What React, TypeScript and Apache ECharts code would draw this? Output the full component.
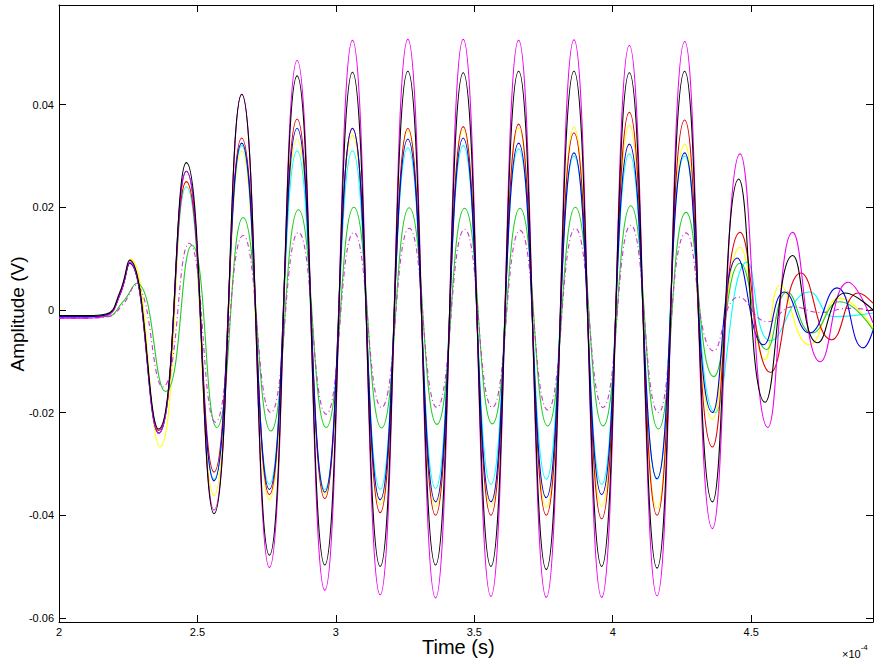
import React, { useEffect, useRef } from "react";
import * as echarts from "echarts";

// Time values are in units of 1e-4 s (axis shows ×10^-4); amplitudes in V.
const xTicks = [2, 2.5, 3, 3.5, 4, 4.5];
const yTicks = [-0.06, -0.04, -0.02, 0, 0.02, 0.04];

const blackT = [2.0, 2.1, 2.17, 2.22, 2.255, 2.36, 2.46, 2.56, 2.66, 2.76, 2.86, 2.96, 3.06, 3.16, 3.26, 3.36, 3.46, 3.56, 3.66, 3.76, 3.86, 3.96, 4.06, 4.16, 4.26, 4.36, 4.455, 4.55, 4.65, 4.74, 4.84, 4.94];
const blackV = [-0.0011, -0.0011, -0.0008, 0.0035, 0.0097, -0.0232, 0.0287, -0.0397, 0.042, -0.0478, 0.0456, -0.0497, 0.0463, -0.05, 0.0465, -0.0497, 0.0462, -0.05, 0.0465, -0.0506, 0.0465, -0.05, 0.0462, -0.0503, 0.0465, -0.0374, 0.0255, -0.018, 0.0106, -0.0064, 0.0033, 0.0];

const magentaT = [2.0, 2.1, 2.17, 2.22, 2.255, 2.36, 2.46, 2.56, 2.66, 2.76, 2.86, 2.96, 3.06, 3.16, 3.26, 3.36, 3.46, 3.56, 3.66, 3.76, 3.86, 3.96, 4.06, 4.16, 4.26, 4.36, 4.46, 4.56, 4.65, 4.75, 4.85, 4.94];
const magentaV = [-0.0016, -0.0016, -0.0012, 0.003, 0.0093, -0.024, 0.027, -0.039, 0.042, -0.0502, 0.0486, -0.0546, 0.0525, -0.0555, 0.0527, -0.0561, 0.0527, -0.0558, 0.0525, -0.056, 0.0526, -0.056, 0.0515, -0.0557, 0.0523, -0.0426, 0.0304, -0.0229, 0.0151, -0.0101, 0.0054, -0.0025];

const redT = [2.0, 2.1, 2.17, 2.22, 2.255, 2.36, 2.46, 2.56, 2.66, 2.76, 2.86, 2.96, 3.06, 3.16, 3.26, 3.36, 3.46, 3.56, 3.66, 3.76, 3.86, 3.96, 4.06, 4.16, 4.26, 4.36, 4.46, 4.57, 4.68, 4.79, 4.887, 4.94];
const redV = [-0.0013, -0.0013, -0.001, 0.003, 0.0091, -0.0235, 0.025, -0.0316, 0.0335, -0.036, 0.0372, -0.0368, 0.0354, -0.0395, 0.0354, -0.04, 0.0357, -0.04, 0.0362, -0.04, 0.0345, -0.0407, 0.0385, -0.04, 0.037, -0.0267, 0.0151, -0.0122, 0.0072, -0.0058, 0.0033, 0.0013];

const blueT = [2.0, 2.1, 2.17, 2.22, 2.255, 2.36, 2.46, 2.56, 2.66, 2.76, 2.86, 2.96, 3.06, 3.16, 3.26, 3.36, 3.46, 3.56, 3.66, 3.76, 3.86, 3.96, 4.06, 4.16, 4.26, 4.36, 4.45, 4.545, 4.62, 4.71, 4.81, 4.905, 4.94];
const blueV = [-0.0013, -0.0013, -0.001, 0.003, 0.0091, -0.024, 0.027, -0.0333, 0.0325, -0.035, 0.0354, -0.0355, 0.0354, -0.037, 0.0333, -0.0374, 0.0335, -0.0374, 0.0325, -0.0366, 0.0306, -0.036, 0.0323, -0.0329, 0.0306, -0.02, 0.0101, -0.0068, 0.0035, -0.0045, 0.0043, -0.0074, -0.004];

const yellowT = [2.0, 2.1, 2.17, 2.22, 2.26, 2.365, 2.46, 2.56, 2.66, 2.76, 2.86, 2.96, 3.06, 3.16, 3.26, 3.36, 3.46, 3.56, 3.66, 3.76, 3.86, 3.96, 4.06, 4.16, 4.26, 4.36, 4.46, 4.55, 4.605, 4.71, 4.82, 4.94];
const yellowV = [-0.0014, -0.0014, -0.001, 0.0032, 0.0099, -0.0267, 0.025, -0.0362, 0.031, -0.037, 0.0333, -0.036, 0.034, -0.038, 0.035, -0.0383, 0.035, -0.0383, 0.0355, -0.0385, 0.0356, -0.0383, 0.036, -0.0387, 0.0323, -0.0213, 0.0122, -0.0097, 0.0048, -0.0068, 0.0023, -0.0035];

const cyanT = [2.0, 2.1, 2.17, 2.22, 2.255, 2.36, 2.46, 2.56, 2.66, 2.76, 2.86, 2.96, 3.06, 3.16, 3.26, 3.36, 3.46, 3.56, 3.66, 3.76, 3.86, 3.96, 4.06, 4.16, 4.26, 4.37, 4.485, 4.57, 4.71, 4.8, 4.94];
const cyanV = [-0.0013, -0.0013, -0.001, 0.003, 0.0091, -0.024, 0.024, -0.033, 0.032, -0.034, 0.031, -0.035, 0.031, -0.035, 0.0316, -0.0348, 0.032, -0.034, 0.0314, -0.033, 0.03, -0.034, 0.0304, -0.033, 0.03, -0.02, 0.0093, -0.006, 0.0035, -0.0013, -0.0006];

const greenT = [2.0, 2.1, 2.17, 2.23, 2.28, 2.385, 2.48, 2.57, 2.665, 2.765, 2.865, 2.965, 3.065, 3.165, 3.265, 3.365, 3.465, 3.565, 3.665, 3.765, 3.865, 3.965, 4.065, 4.165, 4.265, 4.365, 4.46, 4.555, 4.63, 4.72, 4.82, 4.94];
const greenV = [-0.0013, -0.0013, -0.0013, 0.0015, 0.0052, -0.0159, 0.0126, -0.0229, 0.018, -0.0236, 0.0195, -0.0229, 0.02, -0.023, 0.0199, -0.0223, 0.0198, -0.0222, 0.0198, -0.0226, 0.02, -0.0226, 0.0203, -0.0232, 0.019, -0.013, 0.0091, -0.0077, 0.0035, -0.0045, 0.0016, -0.0039];

const dashT = [2.0, 2.1, 2.17, 2.23, 2.275, 2.375, 2.47, 2.565, 2.665, 2.765, 2.865, 2.965, 3.065, 3.165, 3.265, 3.365, 3.465, 3.565, 3.665, 3.765, 3.865, 3.965, 4.065, 4.165, 4.265, 4.365, 4.455, 4.56, 4.65, 4.75, 4.85, 4.94];
const dashV = [-0.0016, -0.0016, -0.0014, 0.001, 0.0048, -0.015, 0.013, -0.0219, 0.0145, -0.02, 0.0151, -0.0203, 0.0151, -0.019, 0.0159, -0.019, 0.0157, -0.019, 0.0155, -0.0195, 0.0159, -0.019, 0.0165, -0.02, 0.015, -0.008, 0.0025, -0.0023, 0.0006, -0.0005, 0.0003, 0.0];

const zip = (t: number[], v: number[]) => t.map((x, i) => [x, v[i]]);

const FONT = "'Liberation Sans', Arial, Helvetica, sans-serif";

export default function App() {
  const ref = useRef<HTMLDivElement>(null);
  useEffect(() => {
    if (!ref.current) return;
    const chart = echarts.init(ref.current, undefined, { renderer: "svg" });
    const mk = (name: string, t: number[], v: number[], color: string, dash?: number[]) => ({
      name,
      type: "line",
      data: zip(t, v),
      smooth: 0.5,
      showSymbol: false,
      symbol: "none",
      xAxisIndex: 0,
      yAxisIndex: 0,
      lineStyle: { color, width: 1.1, type: dash ? dash : "solid" },
      emphasis: { disabled: true },
    });
    const tickCommon = { show: true, inside: true, length: 7, lineStyle: { color: "#000", width: 1 } };
    const lineCommon = { show: true, onZero: false, lineStyle: { color: "#000", width: 1 } };
    chart.setOption({
      animation: false,
      backgroundColor: "#fff",
      grid: { left: 59, right: 4, top: 5, bottom: 40, containLabel: false },
      xAxis: [
        {
          type: "value", min: 2, max: 4.94, position: "bottom",
          axisLine: lineCommon,
          axisTick: { ...tickCommon, customValues: xTicks },
          axisLabel: { customValues: xTicks, color: "#000", fontSize: 11, fontFamily: FONT, margin: 4, formatter: (v: number) => String(v) },
          splitLine: { show: false },
        },
        {
          type: "value", min: 2, max: 4.94, position: "top",
          axisLine: lineCommon,
          axisTick: { ...tickCommon, customValues: xTicks },
          axisLabel: { show: false, customValues: xTicks },
          splitLine: { show: false },
        },
      ],
      yAxis: [
        {
          type: "value", min: -0.0608, max: 0.0594, position: "left",
          axisLine: lineCommon,
          axisTick: { ...tickCommon, customValues: yTicks },
          axisLabel: {
            customValues: yTicks, color: "#000", fontSize: 11, fontFamily: FONT, margin: 5,
            formatter: (v: number) => (Math.abs(v) < 1e-9 ? "0" : v.toFixed(2)),
          },
          splitLine: { show: false },
        },
        {
          type: "value", min: -0.0608, max: 0.0594, position: "right",
          axisLine: lineCommon,
          axisTick: { ...tickCommon, customValues: yTicks },
          axisLabel: { show: false, customValues: yTicks },
          splitLine: { show: false },
        },
      ],
      series: [
        mk("yellow", yellowT, yellowV, "#ffff00"),
        mk("cyan", cyanT, cyanV, "#00ffff"),
        mk("green", greenT, greenV, "#22cc22"),
        mk("dash", dashT, dashV, "#cc33cc", [5, 3, 1, 3]),
        mk("red", redT, redV, "#e00000"),
        mk("blue", blueT, blueV, "#0000dd"),
        mk("magenta", magentaT, magentaV, "#ee00ee"),
        mk("black", blackT, blackV, "#000000"),
      ],
      graphic: [
        {
          type: "text", left: 462 - 40, top: 637,
          style: { text: "Time (s)", fontSize: 20, fontFamily: FONT, fill: "#000" },
        },
        {
          type: "text", x: 17, y: 314, rotation: Math.PI / 2,
          style: { text: "Amplitude (V)", fontSize: 19, fontFamily: FONT, fill: "#000", align: "center", verticalAlign: "middle" },
        },
        {
          type: "text", x: 842, y: 643,
          style: {
            text: "{a|×10}{b|-4}",
            rich: {
              a: { fontSize: 11, fontFamily: FONT, fill: "#000", verticalAlign: "bottom", padding: [5, 0, 0, 0] },
              b: { fontSize: 8, fontFamily: FONT, fill: "#000", verticalAlign: "top" },
            },
          },
        },
      ],
    });
    return () => chart.dispose();
  }, []);
  return <div ref={ref} style={{ width: 877, height: 662, position: "absolute", left: 0, top: 0 }} />;
}
